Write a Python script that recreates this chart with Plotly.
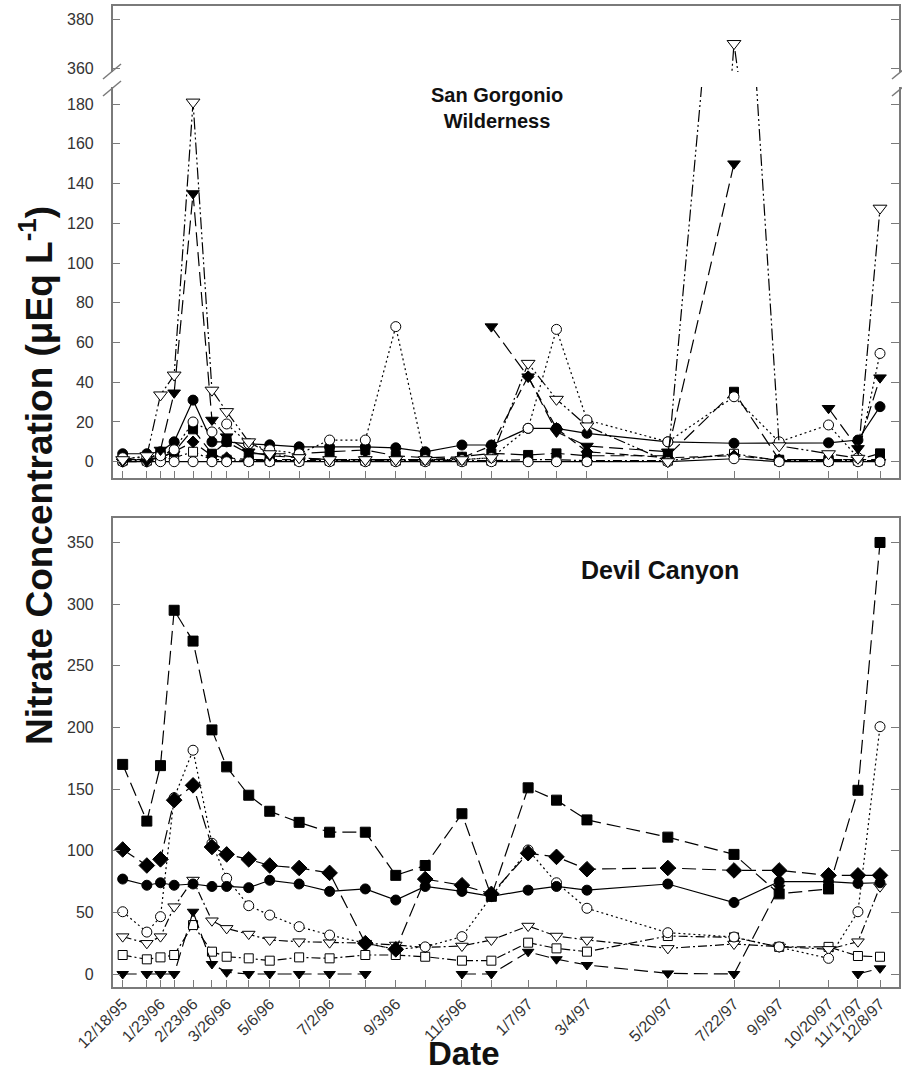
import plotly.graph_objects as go

# ---------------- data ----------------
dates = ["1995-12-18", "1996-01-10", "1996-01-23", "1996-02-05", "1996-02-23",
         "1996-03-12", "1996-03-26", "1996-04-16", "1996-05-06", "1996-06-03",
         "1996-07-02", "1996-08-05", "1996-09-03", "1996-10-01", "1996-11-05",
         "1996-12-03", "1997-01-07", "1997-02-03", "1997-03-04", "1997-05-20",
         "1997-07-22", "1997-09-03", "1997-10-20", "1997-11-17", "1997-12-08"]
tick_labels = ["12/18/95", "", "1/23/96", "", "2/23/96", "", "3/26/96", "", "5/6/96", "",
               "7/2/96", "", "9/3/96", "", "11/5/96", "", "1/7/97", "", "3/4/97",
               "5/20/97", "7/22/97", "9/9/97", "10/20/97", "11/17/97", "12/8/97"]

# San Gorgonio Wilderness (top panel)
sg_filled_circle = [4, 4, 5, 10, 31, 10, 10, 9, 8.5, 7.5, 7.5, 7.5, 7, 5, 8.4, 8.4, 16.8, 16.8, 14.3, 10, 9.3, 9.5, 9.5, 10.9, 27.7]
sg_open_circle = [2, 2, 3, 6, 20, 15, 19, 9, 6, 4, 10.9, 10.9, 68, 1, 1, 2, 16.8, 66.6, 21, 10, 32.7, 10, 18.5, 2, 54.5]
sg_open_tri = [1, 3, 33.6, 43.6, 181, 36, 25.2, 10, 4, 2, 1, 1, 1, 1, 1, 2, 49.5, 31.4, 18, 0, 370, 8, 4, 1.7, 127.6]
sg_filled_tri = [0, 0, 5.9, 34.7, 135, 21, 12.6, 5, 3, 2, 1, 1, 1, 1, None, 68, 42.8, 15, 7.9, 5, 150, None, 26.9, 6.7, 42.3]
sg_filled_square = [1, 1, 2, 5, 16.3, 4, 10, 4, 4, 4, 5, 5.9, 3, 2, 2.5, 4.2, 3.4, 4.2, 3, 3, 35.2, 1, 1, 1, 4.2]
sg_filled_diamond = [1, 1, 2, 5, 10, 3, 2, 1, 1, 1, 1, 1, 1, 1, 2, 8, 42.8, 16.8, 5, 2, 3, 1, 1, 1, 1]
sg_open_square = [0.5, 0.5, 1, 2, 5, 1, 1, 0.5, 0.5, 0.5, 0.5, 0.5, 0.5, 0.5, 0.5, 0.5, 1, 1, 0.5, 0.5, 4, 0.5, 0.5, 0.5, 0.5]
sg_open_circle_base = [0, 0, 0, 0, 0, 0, 0, 0, 0, 0, 0, 0, 0, 0, 0, 0, 0, 0, 0, 0, 1.5, 0, 0, 0, 0]

# Devil Canyon (bottom panel)
dc_filled_square = [170, 124, 169, 295, 270, 198, 168, 145, 132, 123, 115, 115, 80, 88, 130, 63, 151, 141, 125, 111, 97, 65, 69, 149, 350]
dc_filled_diamond = [101, 88, 93, 141, 153, 103, 97, 93, 88, 86, 82, 25, 20, 77, 72, 65, 98, 95, 85, 86, 84, 84, 80, 80, 80]
dc_filled_circle = [77, 72, 74, 72, 73, 71, 71, 70, 76, 73, 67, 69, 60, 71, 67, 63, 68, 71, 68, 73, 58, 75, 75, 73.5, 74]
dc_open_circle = [50.5, 34, 46.5, 143, 181.5, 106, 77.6, 55.4, 47.8, 38.4, 31.6, 25, 20, 22, 30.3, 63, 100.6, 74, 53.3, 33.5, 30, 22, 12.7, 50.5, 200.6]
dc_open_tri = [30.3, 24.9, 30.3, 54.6, 76.2, 43.2, 37, 32.4, 27.6, 26.2, 25.4, 25, 23.5, 21.6, 22.7, 27.6, 38.9, 30.8, 27.6, 20.8, 24.3, 22, 20, 26.2, 70.8]
dc_open_square = [15.4, 11.9, 13.5, 15.4, 39.7, 18.1, 14, 12.7, 10.8, 13.5, 12.7, 15.4, 15.4, 14, 10.8, 10.8, 25.4, 20.8, 18.1, 30.8, 29.7, 22, 22, 14.6, 14]
dc_filled_tri = [0, 0, 0, 0, 50.5, 8.1, 1.4, 0, 0, 0, 0, 0, None, None, 0, 0, 18, 12, 7.3, 0.5, 0, 70, None, 0, 4.6]

# ---------------- styles ----------------
LONG = "14px,6px"
DASH = "9px,5px"
DASHDOT = "9px,3px,2px,3px"
DASHDOTDOT = "12px,3px,2px,3px,2px,3px"
DOT = "2px,3px"

W, H = 902, 1074
def px(v): return v / W
def py(v): return 1 - v / H

fig = go.Figure()

def add(y, symbol, filled, dash, size, xa, ya):
    fig.add_trace(go.Scatter(
        x=dates, y=y, xaxis=xa, yaxis=ya, mode="lines+markers",
        connectgaps=False, showlegend=False,
        line=dict(color="black", width=1.2, dash=dash),
        marker=dict(symbol=symbol, size=size,
                    color="black" if filled else "white",
                    line=dict(color="black", width=1))))

# top panel (both lower and upper segments of the broken axis)
for xa, ya in (("x2", "y2"), ("x3", "y3")):
    add(sg_open_square, "square", False, DASHDOT, 9, xa, ya)
    add(sg_filled_diamond, "diamond", True, DASH, 9, xa, ya)
    add(sg_filled_square, "square", True, LONG, 9, xa, ya)
    add(sg_open_circle_base, "circle", False, "solid", 10, xa, ya)
    add(sg_filled_circle, "circle", True, "solid", 10, xa, ya)
    add(sg_open_circle, "circle", False, DOT, 10, xa, ya)
    add(sg_filled_tri, "triangle-down", True, LONG, 11, xa, ya)
    add(sg_open_tri, "triangle-down", False, DASHDOTDOT, 12, xa, ya)

# bottom panel
add(dc_open_square, "square", False, DASHDOT, 9, "x", "y")
add(dc_open_tri, "triangle-down", False, DASHDOT, 11, "x", "y")
add(dc_open_circle, "circle", False, DOT, 10, "x", "y")
add(dc_filled_tri, "triangle-down", True, LONG, 10, "x", "y")
add(dc_filled_circle, "circle", True, "solid", 10, "x", "y")
add(dc_filled_diamond, "diamond", True, LONG, 12, "x", "y")
add(dc_filled_square, "square", True, LONG, 10, "x", "y")

AX = "#7a7a7a"
xrange_ = ["1995-12-08 12:00", "1997-12-26 02:00"]
xdom = [px(112.7), px(899)]
tickfont = dict(family="Liberation Sans, Arial", size=16, color="#333")

common_y = dict(showgrid=False, zeroline=False, showline=True, linecolor=AX, linewidth=1.5,
                mirror="ticks", ticks="inside", ticklen=8, tickcolor=AX, tickwidth=1,
                tickfont=tickfont, ticklabelstandoff=14, automargin=False)

fig.update_layout(
    template="none",
    width=W, height=H, margin=dict(l=0, r=0, t=0, b=0, autoexpand=False),
    paper_bgcolor="white", plot_bgcolor="white",
    xaxis=dict(domain=xdom, anchor="y", type="date", range=xrange_, automargin=False,
               tickmode="array", tickvals=dates, ticktext=tick_labels, tickangle=-45,
               showgrid=False, zeroline=False, showline=True, linecolor=AX, linewidth=1.5,
               mirror=True, ticks="inside", ticklen=7, tickcolor=AX,
               tickfont=dict(family="Liberation Sans, Arial", size=16, color="#333")),
    yaxis=dict(domain=[py(986.7), py(518.3)], anchor="x", range=[-10.3, 369.6],
               tickmode="array", tickvals=[0, 50, 100, 150, 200, 250, 300, 350], **common_y),
    xaxis2=dict(domain=xdom, anchor="y2", type="date", range=xrange_, matches="x", automargin=False,
                tickmode="array", tickvals=dates, showticklabels=False,
                showgrid=False, zeroline=False, showline=True, linecolor=AX, linewidth=1.5,
                mirror=False, ticks="inside", ticklen=7, tickcolor=AX),
    yaxis2=dict(domain=[py(478), py(87)], anchor="x2", range=[-8.2, 188.6],
                tickmode="array", tickvals=list(range(0, 181, 20)), **common_y),
    xaxis3=dict(domain=xdom, anchor="y3", type="date", range=xrange_, matches="x", automargin=False,
                side="top", showticklabels=False, ticks="",
                showgrid=False, zeroline=False, showline=True, linecolor=AX, linewidth=1.5,
                mirror=False),
    yaxis3=dict(domain=[py(72), py(6)], anchor="x3", range=[358.4, 385.3],
                tickmode="array", tickvals=[360, 380], **common_y),
)

# broken-axis marks
for x0, x1 in ((103, 121), (892, 910)):
    fig.add_shape(type="line", xref="paper", yref="paper", x0=px(x0), x1=px(x1),
                  y0=py(79), y1=py(64), line=dict(color=AX, width=1.5))
    fig.add_shape(type="line", xref="paper", yref="paper", x0=px(x0), x1=px(x1),
                  y0=py(96), y1=py(81), line=dict(color=AX, width=1.5))

bold = dict(family="Liberation Sans, Arial", color="#111")
def label(text, x, y, size, angle=0):
    fig.add_annotation(xref="paper", yref="paper", x=px(x), y=py(y), showarrow=False,
                       xanchor="center", yanchor="middle", textangle=angle,
                       text=text, font=dict(size=size, **bold))

label("<b>San Gorgonio<br>Wilderness</b>", 497, 108, 20)
label("<b>Devil Canyon</b>", 660, 570, 25)
label("<b>Nitrate Concentration (μEq L<sup>-1</sup>)</b>", 36, 476, 37, angle=-90)
label("<b>Date</b>", 464, 1053, 33)

fig.write_html("out.html")
